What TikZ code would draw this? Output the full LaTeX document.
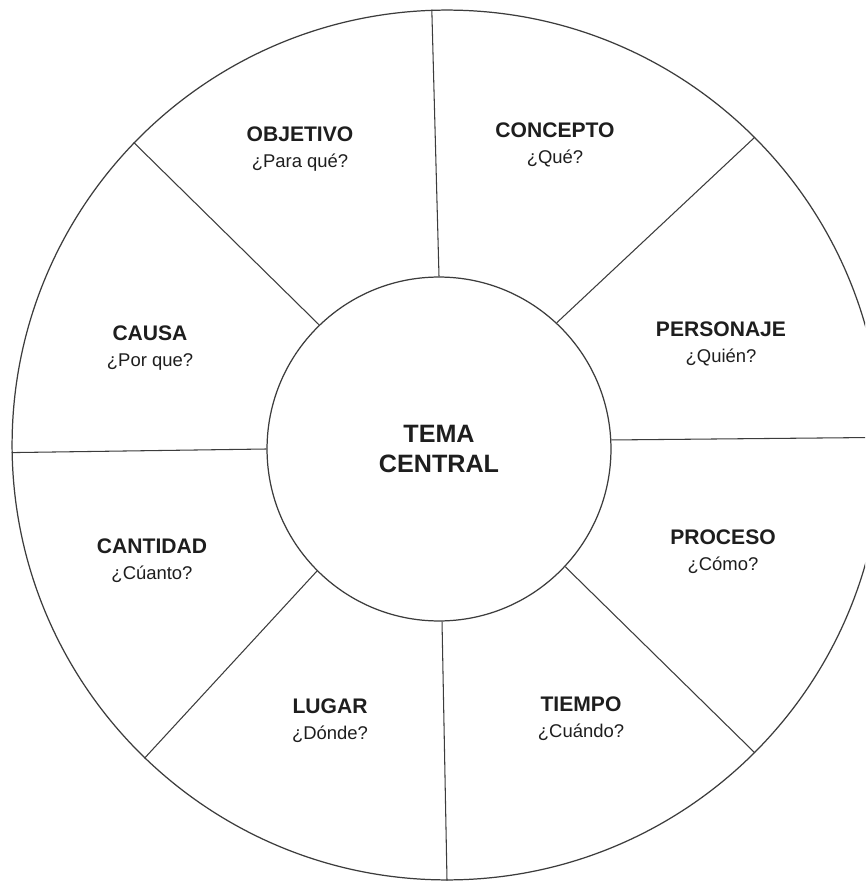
\documentclass[tikz,border=0pt]{standalone}
\usepackage{fontspec}
\setmainfont{Liberation Sans}
\usetikzlibrary{positioning,calc}
\definecolor{ruedaLine}{RGB}{60,60,60}
\definecolor{ruedaText}{RGB}{30,30,30}
\newcommand{\sectorlabel}[2]{\textbf{\fontsize{12}{15}\selectfont #1}\\#2}
\tikzset{
  ruedaring/.style={
    circle,
    draw=ruedaLine,
    line width=0.7pt,
    inner sep=0pt
  },
  spoke/.style={
    draw=ruedaLine,
    line width=0.6pt
  },
  sector/.style={
    align=center,
    text=ruedaText,
    inner sep=1pt,
    font=\fontsize{10.5}{15}\selectfont
  },
  tema/.style={
    align=center,
    text=ruedaText,
    font=\fontsize{14.3}{17}\selectfont\bfseries
  }
}

\begin{document}
\begin{tikzpicture}[x=0.02cm, y=-0.02cm]
  \useasboundingbox (0,0) rectangle (865,881);
  \clip (0,0) rectangle (865,881);
  \fill[white] (0,0) rectangle (865,881);

  % wheel and centre
  \node[ruedaring, minimum size=17.4cm] (rueda) at (447,445) {};
  \node[ruedaring, minimum size=6.88cm] (centro) at (439,449) {};
  \node[tema] (temacentral) at (centro) {TEMA\\CENTRAL};

  % spokes between the two rings
  \foreach \a/\b in {3/1.7, 47.7/45.9, 90.7/92, 134.5/136.5,
                     180.7/181.6, 225.7/226, 271/270, 317.5/315.7} {
    \draw[spoke] (centro.\a) -- (rueda.\b);
  }

  % sector labels
  \node[sector] (objetivo)  at (300,149) {\sectorlabel{OBJETIVO}{¿Para qué?}};
  \node[sector] (concepto)  at (555,145) {\sectorlabel{CONCEPTO}{¿Qué?}};
  \node[sector] (causa)     at (150,348) {\sectorlabel{CAUSA}{¿Por que?}};
  \node[sector] (personaje) at (721,344) {\sectorlabel{PERSONAJE}{¿Quién?}};
  \node[sector] (cantidad)  at (152,561) {\sectorlabel{CANTIDAD}{¿Cúanto?}};
  \node[sector] (proceso)   at (723,552) {\sectorlabel{PROCESO}{¿Cómo?}};
  \node[sector] (lugar)     at (330,721) {\sectorlabel{LUGAR}{¿Dónde?}};
  \node[sector] (tiempo)    at (581,719) {\sectorlabel{TIEMPO}{¿Cuándo?}};
\end{tikzpicture}
\end{document}
